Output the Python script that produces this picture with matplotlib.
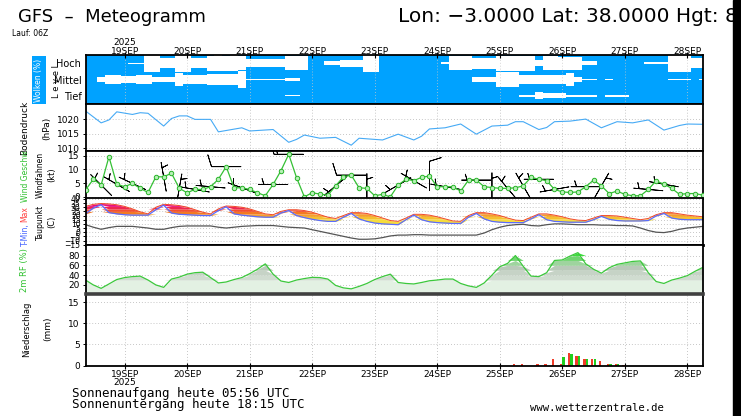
import numpy as np
import matplotlib
matplotlib.use("Agg")
import matplotlib.pyplot as plt
from matplotlib.patches import Rectangle

W, H = 741, 416

# model steps: hours after 19 Sep 2025 00 UTC (run 18 Sep 06Z, 3-hourly)
hours = np.arange(-15, 223, 3)

day_hours = np.arange(0, 217, 24)
day_labels = ['19SEP', '20SEP', '21SEP', '22SEP', '23SEP',
              '24SEP', '25SEP', '26SEP', '27SEP', '28SEP']

# cloud cover (%) per level
cloud_high = [0, 0, 0, 0, 0, 0, 5, 5,
              100, 100, 55, 55, 100, 100, 60, 60,
              90, 95, 90, 95, 85, 50, 50, 45,
              45, 45, 80, 85, 80, 0, 0, 25,
              25, 40, 40, 40, 100, 100, 0, 0,
              0, 0, 0, 0, 0, 0, 10, 85,
              85, 85, 65, 65, 65, 90, 90, 90,
              90, 90, 35, 85, 85, 75, 75, 75,
              25, 25, 0, 0, 0, 0, 0, 0,
              10, 10, 10, 100, 100, 100, 60, 60]
cloud_mid = [0, 0, 25, 55, 55, 45, 45, 50,
             50, 35, 30, 30, 80, 55, 55, 55,
             60, 60, 60, 60, 95, 10, 5, 5,
             5, 5, 15, 15, 0, 0, 0, 0,
             0, 0, 0, 0, 0, 0, 0, 0,
             0, 0, 0, 0, 0, 0, 0, 0,
             0, 0, 25, 25, 25, 90, 90, 90,
             55, 55, 55, 55, 50, 50, 80, 35,
             10, 10, 0, 10, 0, 0, 0, 0,
             0, 0, 0, 8, 8, 8, 0, 5]
cloud_low = [0, 0, 0, 0, 0, 0, 0, 0,
             0, 0, 0, 0, 0, 0, 0, 0,
             0, 0, 0, 0, 0, 0, 0, 0,
             0, 0, 5, 5, 0, 0, 0, 0,
             0, 0, 0, 0, 0, 0, 0, 0,
             0, 0, 0, 0, 0, 0, 0, 0,
             0, 0, 0, 0, 0, 0, 0, 0,
             10, 10, 40, 30, 30, 30, 10, 10,
             10, 10, 0, 8, 8, 8, 0, 0,
             0, 0, 0, 0, 0, 0, 0, 0]

# surface pressure (hPa)
pres_hours = [-15, -9, -6, -3, 3, 6, 9, 15, 18, 21, 24, 27, 33, 36, 45, 48, 57, 63,
              66, 69, 75, 81, 87, 90, 99, 105, 111, 114, 117, 123, 129, 135, 141,
              147, 150, 153, 159, 162, 165, 171, 177, 183, 189, 195, 201, 207, 213,
              216, 222]
pres_vals = [1022.8, 1018.7, 1019.7, 1022.5, 1021.6, 1022.2, 1022.0, 1017.6, 1020.2,
             1021.1, 1021.1, 1019.9, 1019.9, 1015.6, 1017.0, 1015.9, 1016.4, 1012.0,
             1013.0, 1014.5, 1013.4, 1013.7, 1011.0, 1013.4, 1012.8, 1014.8, 1012.8,
             1014.1, 1016.6, 1017.0, 1018.3, 1014.8, 1017.6, 1017.9, 1019.1, 1019.1,
             1016.4, 1017.1, 1019.1, 1019.3, 1020.0, 1017.0, 1019.1, 1018.7, 1019.7,
             1016.2, 1017.8, 1018.3, 1018.2]

# wind speed (kt)
wind_speed = [2.5, 6.4, 4.3, 14.6, 4.6, 3.7, 4.9, 3.1,
              1.6, 7.3, 7.3, 8.6, 3.1, 1.5, 2.7, 2.7,
              3.7, 6.4, 11, 3.3, 3.3, 2.7, 1.5, 0.4,
              4.5, 9.5, 15.5, 7, 0, 1.5, 1, 0.6,
              4, 7.3, 7.9, 3.3, 3.1, 0.4, 0.9, 0,
              4.3, 6.4, 5.9, 7.1, 7.6, 3.7, 3.7, 3.7,
              2.1, 6.1, 6.1, 3.7, 3.4, 3.1, 3.1, 3.3,
              4, 7.1, 6.4, 5.9, 2.7, 1.8, 1.6, 1.8,
              3.7, 6.1, 4, 1.2, 2.1, 0.9, 0.4, 0.4,
              2.7, 5.8, 4.6, 3.1, 0.9, 1.2, 1.2, 0.6]
# wind direction (deg, from) every 6 h for the wind flags
barb_dir = [300, 315, 300, 295, 290, 350, 10, 280, 275, 270,
            290, 280, 270, 270, 250, 300, 230, 270, 0, 280,
            240, 300, 0, 280, 285, 270, 0, 320, 330, 270,
            260, 250, 270, 30, 315, 270, 275, 280, 350, 320]

# temperature (C)
t_max = [31, 33.5, 34.5, 34, 33, 31, 28, 24.5,
         22, 30, 33.5, 33, 32, 30, 27, 24,
         22, 28, 31.5, 31, 30, 28, 25, 22,
         21, 25, 27, 27, 26, 24, 21, 18,
         16.5, 20, 23.5, 23.5, 22.5, 20, 17, 14,
         13, 17, 21.5, 21.5, 20.5, 18.5, 16, 13.5,
         13, 20, 23.5, 23.5, 22, 20, 17, 14.5,
         14, 18, 22, 22, 20.5, 18.5, 16, 14.5,
         14, 17, 20, 20, 19.5, 18, 16.5, 15,
         16.5, 21, 23.5, 23.5, 22, 20.5, 19.5, 18.5]
t_min = [22, 29, 33, 23.5, 22, 21, 20.5, 20.5,
         20.5, 27, 32.5, 23, 21.5, 21, 20.5, 20,
         20, 26, 30.5, 22, 20.5, 19.5, 18.5, 18,
         18, 23, 26, 20, 17.5, 15.5, 14, 13,
         13, 18, 22.5, 16, 13, 11, 10, 9.5,
         9, 15, 20.5, 15, 12.5, 11.5, 11, 10.5,
         10.5, 18, 22.5, 16, 13, 12, 11.5, 11.5,
         11.5, 16, 21, 15, 13, 12.5, 12, 12,
         12, 15, 19, 15.5, 14, 13.5, 13.5, 13.5,
         14, 19.5, 22.5, 17, 15.5, 15, 15, 15]
dewpoint = [9, 6, 3.5, 5.5, 7, 7, 7, 6,
            5, 3.5, 3.5, 5.5, 7, 7.5, 7.5, 7.5,
            7.5, 6, 5, 6, 7, 7.5, 8, 8,
            8, 7, 6, 5.5, 5, 3, 1, -1,
            -3, -5, -7, -8.5, -8.5, -8, -6.5, -4.5,
            -3.5, -3.5, -3, -3, -3.5, -3.5, -3.5, -3.5,
            -3.5, -3.5, -3.5, -1, 3, 6, 8, 9,
            9.5, 8, 7.5, 9, 10, 10, 9.5, 9,
            9, 9, 8.5, 8.5, 8, 8, 7.5, 5,
            2, 0, -0.5, 1, 3.5, 5, 6, 7]

# 2m relative humidity (%)
rh = [30, 20, 13, 22, 31, 35, 37, 38,
      30, 20, 15, 32, 36, 42, 45, 46,
      35, 24, 26, 31, 35, 43, 52, 63,
      42, 28, 25, 30, 33, 35.5, 35, 32,
      19, 14, 12, 17, 23, 31, 37, 42,
      25, 23, 22, 25, 28.5, 30, 32, 32,
      23, 18, 15, 24, 40, 57, 64, 80,
      58, 38, 37, 45, 70, 71, 79, 86,
      63, 52, 44, 55, 62, 65, 68, 69,
      45, 27, 23, 30, 34, 39, 48, 56]

# precipitation (mm / 3h)
prec_hours = [150, 153, 159, 162, 165, 168, 171, 174, 177, 180, 183, 186, 189, 192]
prec_green = [0, 0, 0, 0, 0, 2.1, 2.7, 2.2, 1.6, 1.6, 0, 0.4, 0.4, 0]
prec_red = [0.4, 0.25, 0.3, 0.4, 1.6, 0.3, 2.9, 2.2, 1.6, 1.6, 1.0, 0.4, 0.4, 0.15]

GRID = dict(color='#b4b4b4', lw=0.6, linestyle=(0, (1, 2.5)))
L, R = 85.5, 703

fig = plt.figure(figsize=(W / 100, H / 100), dpi=100)


def panel(top, bottom):
    ax = fig.add_axes([L / W, 1 - bottom / H, (R - L) / W, (bottom - top) / H])
    ax.set_xlim(-15, 222)
    ax.set_xticks(day_hours)
    ax.tick_params(axis='x', length=0, labelbottom=False)
    ax.tick_params(axis='y', direction='out', length=2.5, width=0.7, pad=1.5, labelsize=6.5)
    ax.grid(axis='x', **GRID)
    ax.set_axisbelow(True)
    for s in ax.spines.values():
        s.set_linewidth(1.3)
    return ax


def ftext(x, y, s, **kw):
    fig.text(x / W, 1 - y / H, s, **kw)


# cloud panel
ax = panel(55, 104)
ax.set_facecolor('#00a2ff')
ax.set_ylim(0, 3)
for center, cover in ((2.5, cloud_high), (1.5, cloud_mid), (0.5, cloud_low)):
    half = np.array(cover) / 100 * 0.52
    ax.fill_between(hours, center - half, center + half, step='mid', color='white', lw=0)
ax.set_yticks([0.5, 1.5, 2.5], ['Tief', 'Mittel', 'Hoch'])
ax.tick_params(axis='y', labelsize=7, length=0, pad=3)
ax.grid(axis='x', color='#c8c8c8', lw=0.6, linestyle=(0, (1, 2.5)))
ax.set_axisbelow(False)
ax.xaxis.tick_top()
ax.set_xticks(day_hours, ['2025\n19SEP'] + day_labels[1:])
ax.tick_params(axis='x', top=True, labeltop=True, direction='inout', length=4,
               width=0.8, pad=-2.5, labelsize=6.5)
for lbl in ax.get_xticklabels():
    lbl.set_linespacing(0.95)

# pressure
ax = panel(104, 151)
ax.plot(pres_hours, pres_vals, color='#46aaf5', lw=0.8)
ax.set_ylim(1009, 1025.2)
ax.set_yticks([1010, 1015, 1020])
ax.grid(axis='y', **GRID)

# wind
ax = panel(151, 198.5)
spd = np.array(wind_speed)
bh = hours[::2]
bs = spd[::2]
rad = np.deg2rad(barb_dir)
ax.barbs(bh, bs, -bs * np.sin(rad), -bs * np.cos(rad), length=6.5, pivot='middle',
         color='black', lw=0.6, sizes=dict(emptybarb=0.0), zorder=2)
ax.plot(hours, spd, color='#34c034', lw=0.9, marker='o', ms=3.2, mfc='#b8f0b8',
        mec='#28b428', mew=0.7, zorder=3)
ax.set_ylim(-0.6, 16.7)
ax.set_yticks([0, 5, 10, 15])
ax.grid(axis='y', **GRID)

# temperature
ax = panel(198.5, 245.5)
t_bands = [(-50, 16, '#f6dc3c'), (16, 19, '#f5c030'), (19, 22, '#f4a02a'),
           (22, 25, '#f37a22'), (25, 28, '#f25030'), (28, 31, '#ee2850'),
           (31, 60, '#e8107f')]
tlo = np.array(t_min)
thi = np.array(t_max)
for a, b, col in t_bands:
    ax.fill_between(hours, np.clip(tlo, a, b), np.clip(thi, a, b), color=col, lw=0)
ax.plot(hours, t_max, color='#f04828', lw=0.7)
ax.plot(hours, t_min, color='#5a6cff', lw=0.9)
ax.plot(hours, dewpoint, color='#555555', lw=0.9)
ax.set_ylim(-16, 40.5)
ax.set_yticks(np.arange(-15, 41, 5))
ax.tick_params(axis='y', labelsize=5.5, pad=1)
ax.grid(axis='y', **GRID)
ax.spines['bottom'].set_linewidth(2)

# relative humidity
ax = panel(245.5, 293.5)
rh_arr = np.array(rh)
rh_bands = [(0, 30, '#e3f1e3'), (30, 40, '#d0dcd0'), (40, 50, '#c6d3c6'),
            (50, 60, '#b9c9b9'), (60, 70, '#9ed49e'), (70, 80, '#6fd46f'),
            (80, 90, '#3ddc3d'), (90, 101, '#10e010')]
for a, b, col in rh_bands:
    ax.fill_between(hours, a, np.clip(rh_arr, a, b), color=col, lw=0)
ax.plot(hours, rh, color='#3cc83c', lw=0.9)
ax.set_ylim(2.5, 100.5)
ax.set_yticks([20, 40, 60, 80])
ax.grid(axis='y', **GRID)

# precipitation
ax = panel(293.5, 365.5)
ph = np.array(prec_hours)
ax.bar(ph - 0.5, prec_red, width=0.9, color='#f03c28', lw=0)
ax.bar(ph + 0.5, prec_green, width=0.9, color='#20d020', lw=0)
ax.set_ylim(0, 17.1)
ax.set_yticks([0, 5, 10, 15])
ax.grid(axis='y', **GRID)
ax.spines['top'].set_linewidth(2.6)
ax.spines['top'].set_color('#404040')
ax.set_xticks(day_hours, ['19SEP\n2025'] + day_labels[1:])
ax.tick_params(axis='x', bottom=True, labelbottom=True, direction='inout', length=4,
               width=0.8, pad=1, labelsize=6.5)
for lbl in ax.get_xticklabels():
    lbl.set_linespacing(0.95)

# left-hand panel titles
rot = dict(rotation=90, ha='center', va='center')
ftext(39, 80, 'Wolken (%)', color='white', fontsize=5.5,
      bbox=dict(boxstyle='square,pad=0.3', fc='#00a2ff', ec='none'), **rot)
ftext(56, 81, 'L e v e l', fontsize=6, **rot)
ftext(25, 128, 'Bodendruck', fontsize=6.5, **rot)
ftext(47, 128, '(hPa)', fontsize=6.5, **rot)
ftext(25, 175, 'Wind Geschw.', fontsize=5.5, color='#30c030', **rot)
ftext(40, 175, 'Windfahnen', fontsize=5.5, **rot)
ftext(52, 175, '(kt)', fontsize=6, **rot)
ftext(25, 235, 'T-Min,', fontsize=5.5, color='#4060ff', **rot)
ftext(25, 214, 'Max', fontsize=5.5, color='#ff4040', **rot)
ftext(40, 222, 'Taupunkt', fontsize=5.5, **rot)
ftext(52, 222, '(C)', fontsize=6, **rot)
ftext(25, 270, '2m RF (%)', fontsize=6, color='#30c030', **rot)
ftext(27, 329, 'Niederschlag', fontsize=6, **rot)
ftext(48, 329, '(mm)', fontsize=6.5, **rot)

# header and footer
ftext(18, 17, 'GFS  \u2013  Meteogramm', fontsize=13, ha='left', va='center')
ftext(398, 17, 'Lon: \u22123.0000 Lat: 38.0000 Hgt: 822', fontsize=14.5,
      ha='left', va='center')
ftext(12, 33, 'Lauf: 06Z', fontsize=5.5, ha='left', va='center')
ftext(72, 393, 'Sonnenaufgang heute 05:56 UTC', fontsize=9, family='DejaVu Sans Mono',
      ha='left', va='center')
ftext(72, 404.5, 'Sonnenuntergang heute 18:15 UTC', fontsize=9, family='DejaVu Sans Mono',
      ha='left', va='center')
ftext(530, 408, 'www.wetterzentrale.de', fontsize=7.7, family='DejaVu Sans Mono',
      ha='left', va='center')

fig.add_artist(Rectangle((733 / W, 0), 8 / W, 1, transform=fig.transFigure,
                         color='black', zorder=10))

fig.savefig('out.png', dpi=100)
